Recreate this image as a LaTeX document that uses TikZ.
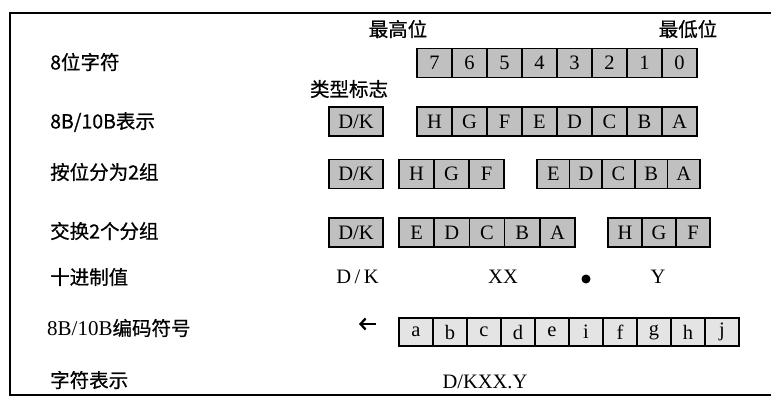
\documentclass[tikz,border=0pt]{standalone}
\usepackage{fontspec}
\usetikzlibrary{arrows.meta}
\setmainfont{Liberation Serif}
\newfontfamily\cjk[FakeBold=0.7]{Noto Sans CJK SC}
\definecolor{boxgray}{RGB}{192,192,192}
\definecolor{boxlight}{RGB}{228,228,228}
\begin{document}
\begin{tikzpicture}[x=1pt,y=-1pt,
  cellbox/.style={draw, line width=1.7pt, fill=boxgray, minimum width=#1,
    minimum height=29pt, inner sep=0pt, outer sep=0pt, anchor=west,
    font=\fontsize{20.5}{20.5}\selectfont},
  lightcell/.style={cellbox=#1, fill=boxlight, minimum height=28pt},
  lab/.style={anchor=west, inner sep=0pt, font=\cjk\fontsize{19.5}{19.5}\selectfont},
  head/.style={inner sep=0pt, font=\cjk\fontsize{19.5}{19.5}\selectfont},
  val/.style={inner sep=0pt, font=\fontsize{20.5}{20.5}\selectfont},
  leftarrow/.style={line width=2.3pt, -{Straight Barb[length=5pt,width=11pt]}}]
\useasboundingbox (0,0) rectangle (771,398);
% frame
\draw[line width=2pt] (771,13) -- (9.5,13) -- (9.5,395) -- (771,395);
% headings
\node[head] (msb) at (398,29) {最高位};
\node[head] (lsb) at (688,29) {最低位};
\node[head] (type) at (349,89) {类型标志};
% row labels
\node[lab] (l1) at (50,62) {8位字符};
\node[lab] (l2) at (50,122) {8B/10B表示};
\node[lab] (l3) at (50,172) {按位分为2组};
\node[lab] (l4) at (50,231) {交换2个分组};
\node[lab] (l5) at (50,277) {十进制值};
\node[lab] (l6) at (47,328) {{\rmfamily\fontsize{21}{21}\selectfont 8B/10B}编码符号};
\node[lab] (l7) at (50,380) {字符表示};
% row 1
\foreach \t [count=\i from 0] in {7,6,5,4,3,2,1,0}
  \node[cellbox=35pt] (ra\i) at ({417+35*\i},63) {\t};
% row 2
\node[cellbox=54pt] (rbdk) at (329,121.5) {D/K};
\foreach \t [count=\i from 0] in {H,G,F,E,D,C,B,A}
  \node[cellbox=35pt] (rb\i) at ({417+35*\i},121.5) {\t};
% row 3
\node[cellbox=54pt] (rcdk) at (329,174) {D/K};
\foreach \t [count=\i from 0] in {H,G,F}
  \node[cellbox=35pt] (rch\i) at ({399+35*\i},174) {\t};
\foreach \t [count=\i from 0] in {E,D,C,B,A}
  \node[cellbox=32.6pt] (rce\i) at ({537+32.6*\i},174) {\t};
% row 4
\node[cellbox=54pt] (rddk) at (329,232.5) {D/K};
\foreach \t [count=\i from 0] in {E,D,C,B,A}
  \node[cellbox=35.2pt] (rde\i) at ({399+35.2*\i},232.5) {\t};
\foreach \t [count=\i from 0] in {H,G,F}
  \node[cellbox=34pt] (rdh\i) at ({608+34*\i},232.5) {\t};
% decimal values
\node[val] (vdk) at (357.5,277) {D\,/\,K};
\node[val] (vxx) at (503,277) {XX};
\node[circle, fill=black, minimum size=9pt, inner sep=0pt] (vdot) at (586,279) {};
\node[val] (vy) at (658,277) {Y};
% code symbols
\coordinate (arrstart) at (376,324);
\coordinate (arrend) at (359,324);
\draw[leftarrow] (arrstart) -- (arrend);
\foreach \t [count=\i from 0] in {a,b,c,d,e,i,f,g,h,j}
  \node[lightcell=34pt] (rf\i) at ({399+34*\i},332) {\t};
% character representation
\node[val] (chr) at (485,382) {D/KXX.Y};
\end{tikzpicture}
\end{document}
